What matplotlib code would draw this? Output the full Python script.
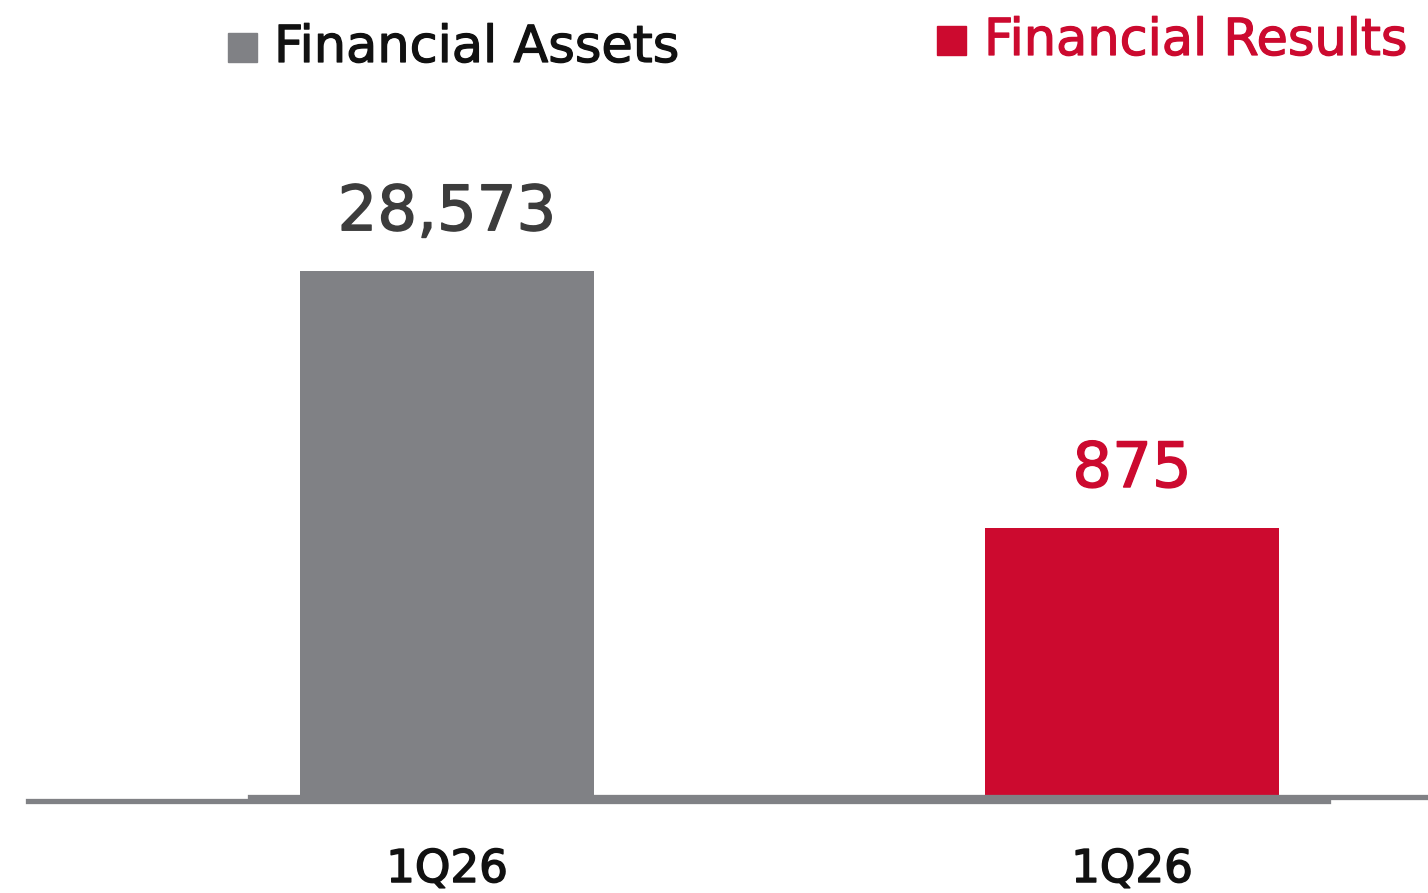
import matplotlib
matplotlib.use("Agg")
import matplotlib.pyplot as plt
import matplotlib.transforms as mtransforms
import matplotlib.patheffects as pe
from matplotlib.patches import Rectangle

series = ["Financial Assets", "Financial Results"]
categories = ["1Q26"]
assets_values = [28573]
results_values = [875]
value_labels = ["28,573", "875"]

GRAY = "#808185"
RED = "#CC0A2F"
FONT = "DejaVu Sans"

W, H = 1428, 893
fig = plt.figure(figsize=(W / 100, H / 100), dpi=100)

def bold(col, w=0.9):
    return [pe.withStroke(linewidth=w, foreground=col)]

def px_axes(x0, x1, ybot, ytop):
    return fig.add_axes([x0 / W, 1 - ybot / H, (x1 - x0) / W, (ybot - ytop) / H])

# left panel
ax1 = px_axes(28, 1328, 800.5, 100)
ax1.bar([0], assets_values, width=1.0, color=GRAY)
ax1.set_xlim(-(447 - 28) / 294, (1328 - 447) / 294)
ax1.set_ylim(0, assets_values[0] * 700.5 / 530)

# right panel
ax2 = px_axes(250, 1428, 797, 100)
ax2.bar([0], results_values, width=1.0, color=RED)
ax2.set_xlim(-(1132 - 250) / 294, (1428 - 1132) / 294)
ax2.set_ylim(0, results_values[0] * 697 / 269)

for ax, lab, col, off in [(ax1, value_labels[0], "#3c3c3c", 29),
                          (ax2, value_labels[1], RED, 29.5)]:
    ax.patch.set_alpha(0)
    for s in ["top", "left", "right"]:
        ax.spines[s].set_visible(False)
    ax.spines["bottom"].set_color(GRAY)
    ax.spines["bottom"].set_linewidth(3.8)
    ax.set_yticks([])
    ax.set_xticks([])
    v = ax.patches[0].get_height()
    ax.annotate(lab, xy=(0, v), xytext=(0, off), textcoords="offset points",
                ha="center", va="baseline", fontsize=45, family=FONT, color=col,
                path_effects=bold(col, 1.0))
    tr = mtransforms.blended_transform_factory(ax.transData, fig.transFigure)
    ax.text(0, 1 - 882 / H, categories[0], transform=tr, ha="center",
            va="baseline", fontsize=32.5, family=FONT, color="#111111",
            path_effects=bold("#111111", 1.1))

# legend
fig.patches.append(Rectangle((228 / W, 1 - 62 / H), 29 / W, 29 / H,
                             transform=fig.transFigure, color=GRAY, figure=fig))
fig.text(274 / W, 1 - 62 / H, series[0], fontsize=36.7, color="#111111", family=FONT,
         ha="left", va="baseline", path_effects=bold("#111111", 0.9))
fig.patches.append(Rectangle((937 / W, 1 - 55 / H), 29 / W, 29 / H,
                             transform=fig.transFigure, color=RED, figure=fig))
fig.text(984 / W, 1 - 55 / H, series[1], fontsize=36.7, color=RED, family=FONT,
         ha="left", va="baseline", path_effects=bold(RED, 0.9))

fig.savefig("out.png", dpi=100, facecolor="white")
